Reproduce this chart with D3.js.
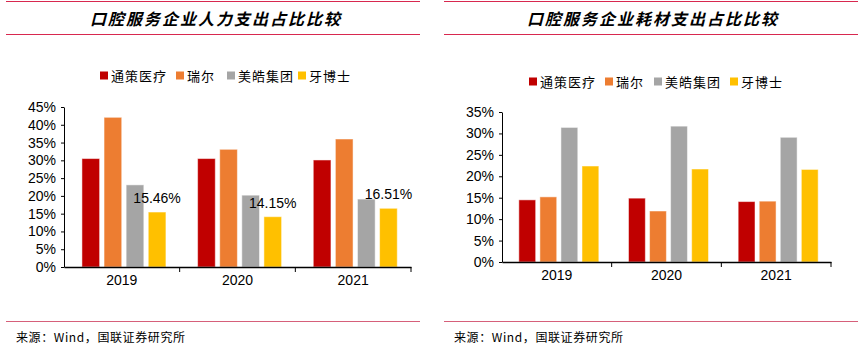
<!DOCTYPE html>
<html>
<head>
<meta charset="utf-8">
<script src="https://cdn.jsdelivr.net/npm/d3@7"></script>
<style>
  body { margin: 0; background: #fff; }
  svg { display: block; }
</style>
</head>
<body>
<div id="chart"></div>
<script>
// data
const years = ["2019", "2020", "2021"];
const companies = ["通策医疗", "瑞尔", "美皓集团", "牙博士"];
const colors = ["#C00000", "#ED7D31", "#A5A5A5", "#FFC000"];

// 人力支出占比 (%)
const laborTongce = [30.5, 30.5, 30.1];
const laborRuier = [42.1, 33.1, 36.0];
const laborMeihao = [23.1, 20.2, 19.1];
const laborYabo = [15.46, 14.15, 16.51];

// 耗材支出占比 (%)
const matTongce = [14.5, 14.9, 14.1];
const matRuier = [15.2, 11.9, 14.2];
const matMeihao = [31.4, 31.7, 29.1];
const matYabo = [22.4, 21.7, 21.6];

const svg = d3.select("#chart").append("svg")
    .attr("width", 866)
    .attr("height", 350);

const cjk = "'Noto Sans CJK SC', sans-serif";
const latin = "Arial, 'Liberation Sans', sans-serif";

function panel(opt) {
  const g = svg.append("g").attr("transform", `translate(${opt.x0}, 0)`);
  const w = opt.width;

  // header lines + title
  g.append("line").attr("x1", 0).attr("x2", w).attr("y1", 1.5).attr("y2", 1.5)
      .attr("stroke", "#D8284F").attr("stroke-width", 1.2);
  g.append("line").attr("x1", 0).attr("x2", w).attr("y1", 34.5).attr("y2", 34.5)
      .attr("stroke", "#D8284F").attr("stroke-width", 1.2);
  g.append("text")
      .attr("x", opt.titleX)
      .attr("y", 18)
      .attr("text-anchor", "middle")
      .attr("dominant-baseline", "central")
      .attr("font-family", cjk)
      .attr("font-size", 16)
      .attr("font-weight", "bold")
      .attr("font-style", "italic")
      .attr("letter-spacing", 2)
      .text(opt.title);

  // footer
  g.append("line").attr("x1", 0).attr("x2", w).attr("y1", 321.5).attr("y2", 321.5)
      .attr("stroke", "#D6607A").attr("stroke-width", 1);
  g.append("text")
      .attr("x", 10)
      .attr("y", 336)
      .attr("dominant-baseline", "central")
      .attr("font-family", cjk)
      .attr("font-size", 12)
      .attr("letter-spacing", 0.6)
      .text("来源：Wind，国联证券研究所");

  // scales
  const x = d3.scaleBand()
      .domain(years)
      .range([opt.axisL, opt.axisR]);

  const inner = d3.scaleBand()
      .domain(companies)
      .range([0, opt.step * 4])
      .paddingInner(0.2);

  const y = d3.scaleLinear()
      .domain([0, opt.yMax])
      .range([opt.y0, opt.yTop]);

  // bars
  const groups = g.selectAll(".yr")
    .data(years)
    .join("g")
      .attr("transform", d => `translate(${x(d) + (x.bandwidth() - opt.step * 4) / 2 + opt.step * 0.1}, 0)`);

  groups.selectAll("rect")
    .data((d, i) => companies.map((c, k) => ({c, k, v: opt.series[k][i]})))
    .join("rect")
      .attr("x", d => inner(d.c))
      .attr("y", d => y(d.v))
      .attr("width", inner.bandwidth())
      .attr("height", d => opt.y0 - y(d.v))
      .attr("fill", d => colors[d.k])
      .attr("stroke", "#fff")
      .attr("stroke-opacity", 0.5)
      .attr("stroke-width", 1);

  // value labels
  if (opt.labels) {
    groups.append("text")
        .attr("x", (d, i) => inner(companies[3]) + inner.bandwidth() / 2)
        .attr("y", (d, i) => y(opt.series[3][i]) - 14)
        .attr("text-anchor", "middle")
        .attr("dominant-baseline", "central")
        .attr("font-family", latin)
        .attr("font-size", 14)
        .text((d, i) => opt.series[3][i].toFixed(2) + "%");
  }

  // axes
  g.append("g")
      .attr("transform", `translate(${opt.axisL}, 0)`)
      .call(d3.axisLeft(y).tickValues(d3.range(0, opt.yMax + 0.1, 5))
        .tickFormat(d => d + "%").tickSize(3).tickSizeOuter(0))
      .call(a => a.select(".domain").attr("stroke", "#000"))
      .call(a => a.selectAll(".tick text")
        .attr("font-family", latin).attr("font-size", 14).attr("fill", "#000").attr("x", -8));

  const xa = g.append("g")
      .attr("transform", `translate(0, ${opt.y0})`)
      .call(d3.axisBottom(x).tickSize(0).tickSizeOuter(0))
      .call(a => a.select(".domain").attr("stroke", "#000").attr("stroke-width", 1.3))
      .call(a => a.selectAll(".tick text")
        .attr("font-family", latin).attr("font-size", 14).attr("fill", "#000").attr("dy", opt.xLabelDy));

  // category separators on x axis
  xa.selectAll(".sep")
    .data(years.slice(1).concat(["end"]))
    .join("line")
      .attr("x1", d => d === "end" ? opt.axisR : x(d))
      .attr("x2", d => d === "end" ? opt.axisR : x(d))
      .attr("y1", 0).attr("y2", 5)
      .attr("stroke", "#000");

  // legend
  const leg = g.selectAll(".leg")
    .data(companies)
    .join("g")
      .attr("transform", (d, i) => `translate(${opt.legendX[i]}, ${opt.legendY})`);
  leg.append("rect")
      .attr("x", 0).attr("y", -4).attr("width", 8).attr("height", 8)
      .attr("fill", (d, i) => colors[i]);
  leg.append("text")
      .attr("x", 11)
      .attr("dominant-baseline", "central")
      .attr("font-family", cjk)
      .attr("font-size", 13)
      .attr("letter-spacing", 1)
      .text(d => d);
}

panel({
  x0: 6, width: 414, titleX: 210,
  title: "口腔服务企业人力支出占比比较",
  axisL: 58, axisR: 405, y0: 267, yTop: 107, yMax: 45,
  step: 21, labels: true, xLabelDy: "1.1em",
  series: [laborTongce, laborRuier, laborMeihao, laborYabo],
  legendX: [94, 170, 221, 292], legendY: 75.5
});

panel({
  x0: 444, width: 414, titleX: 209,
  title: "口腔服务企业耗材支出占比比较",
  axisL: 58, axisR: 387, y0: 262, yTop: 112, yMax: 35,
  step: 20, labels: false, xLabelDy: "1.1em",
  series: [matTongce, matRuier, matMeihao, matYabo],
  legendX: [85, 161, 210, 286], legendY: 81.5
});
</script>
</body>
</html>
